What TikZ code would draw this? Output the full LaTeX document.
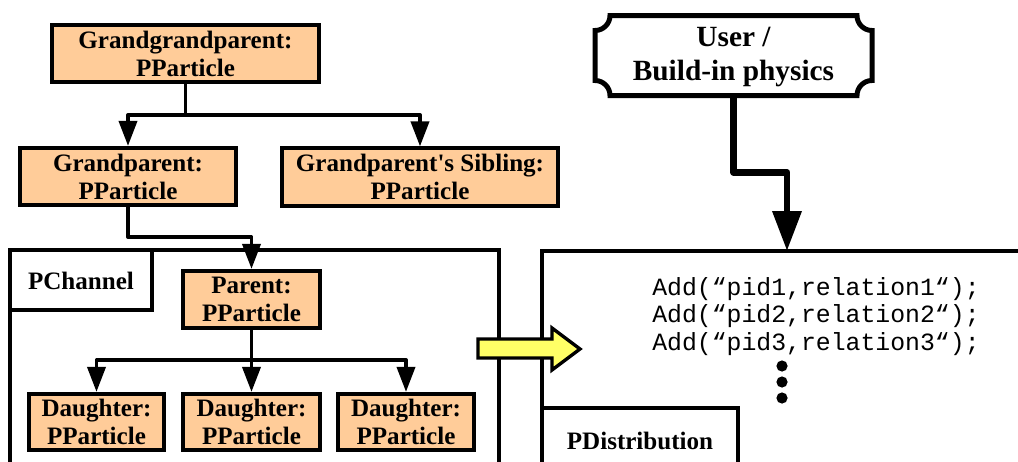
\documentclass[tikz,border=0pt]{standalone}
\usepackage{fontspec}
\setmainfont{Liberation Serif}
\setmonofont{Liberation Mono}
\usetikzlibrary{arrows.meta}
\definecolor{peach}{RGB}{255,204,153}
\definecolor{yel}{RGB}{255,255,102}
\begin{document}
\begin{tikzpicture}[x=0.75pt,y=-0.75pt,
  pbox/.style={draw, line width=2.9pt, fill=peach, align=center, inner sep=0pt,
    font=\bfseries\fontsize{18.8}{21}\selectfont, minimum height=43pt},
  lbl/.style={font=\bfseries\fontsize{18.8}{21}\selectfont, inner sep=0pt},
  conn/.style={line width=2.8pt, line join=round, -{Triangle[length=18.75pt,width=13.5pt]}},
  bigconn/.style={line width=5pt, line join=round, -{Triangle[length=30pt,width=21pt]}},
  frameline/.style={line width=2.5pt, line join=miter},
  code/.style={font=\ttfamily\fontsize{18.6}{20.6}\selectfont, inner sep=0pt, anchor=base west}]
\useasboundingbox (0,0) rectangle (1018,461);

% frames
\draw[frameline] (10,470) -- (10,250) -- (499,250) -- (499,470);
\draw[frameline] (10,310) -- (152,310) -- (152,250);
\node[lbl] (pch) at (81,281) {PChannel};
\draw[frameline] (542,470) -- (542,251) -- (1025,251);
\draw[frameline] (542,408) -- (738,408) -- (738,470);
\node[lbl] (pdist) at (640,441) {PDistribution};

% particle boxes
\node[pbox, minimum width=200.5pt] (ggp) at (185.5,53.5) {Grandgrandparent:\\PParticle};
\node[pbox, minimum width=162.25pt] (gp) at (128,176.5) {Grandparent:\\PParticle};
\node[pbox, minimum width=207.25pt] (sib) at (420,177) {Grandparent\textquotesingle s Sibling:\\PParticle};
\node[pbox, minimum width=103pt] (par) at (251.5,299.5) {Parent:\\PParticle};
\node[pbox, minimum width=101.5pt, minimum height=42.25pt] (d1) at (96.5,422) {Daughter:\\PParticle};
\node[pbox, minimum width=103pt, minimum height=42.25pt] (d2) at (251.5,422) {Daughter:\\PParticle};
\node[pbox, minimum width=102.25pt, minimum height=42.25pt] (d3) at (406,422) {Daughter:\\PParticle};

% connectors
\draw[conn] (ggp.south) -- ++(0,31) coordinate (j1) -| (gp.north);
\draw[conn] (j1) -| (sib.north);
\draw[conn] (gp.south) -- ++(0,30) -| (par.north);
\draw[conn] (par.south) -- ++(0,30) coordinate (j2) -| (d1.north);
\draw[conn] (j2) -- (d2.north);
\draw[conn] (j2) -| (d3.north);

% user plaque
\def\r{15}
\draw[line width=3.75pt, fill=white]
  (595+\r,15.5) -- (872-\r,15.5)
  .. controls (872-\r,15.5+0.552*\r) and (872-0.552*\r,15.5+\r) .. (872,15.5+\r)
  -- (872,95.5-\r)
  .. controls (872-0.552*\r,95.5-\r) and (872-\r,95.5-0.552*\r) .. (872-\r,95.5)
  -- (595+\r,95.5)
  .. controls (595+\r,95.5-0.552*\r) and (595+0.552*\r,95.5-\r) .. (595,95.5-\r)
  -- (595,15.5+\r)
  .. controls (595+0.552*\r,15.5+\r) and (595+\r,15.5+0.552*\r) .. (595+\r,15.5)
  -- cycle;
\node[minimum width=207.75pt, minimum height=60pt, inner sep=0pt, align=center,
  font=\bfseries\fontsize{22}{25}\selectfont] (user) at (733.5,57) {User /\\Build-in physics};
\coordinate (target) at (787,251);
\draw[bigconn] (user.south) -- ++(0,75) -| (target);

% code
\node[code] (c1) at (652,295) {Add(“pid1,relation1“);};
\node[code] (c2) at (652,322.5) {Add(“pid2,relation2“);};
\node[code] (c3) at (652,350) {Add(“pid3,relation3“);};
\fill (782,366) circle[radius=4.2pt];
\fill (782,382) circle[radius=4.2pt];
\fill (782,398) circle[radius=4.2pt];

% yellow arrow
\draw[line width=2.5pt, fill=yel, line join=miter]
  (478,339) -- (552,339) -- (552,328) -- (580,349) -- (552,370) -- (552,358) -- (478,358) -- cycle;
\end{tikzpicture}
\end{document}
